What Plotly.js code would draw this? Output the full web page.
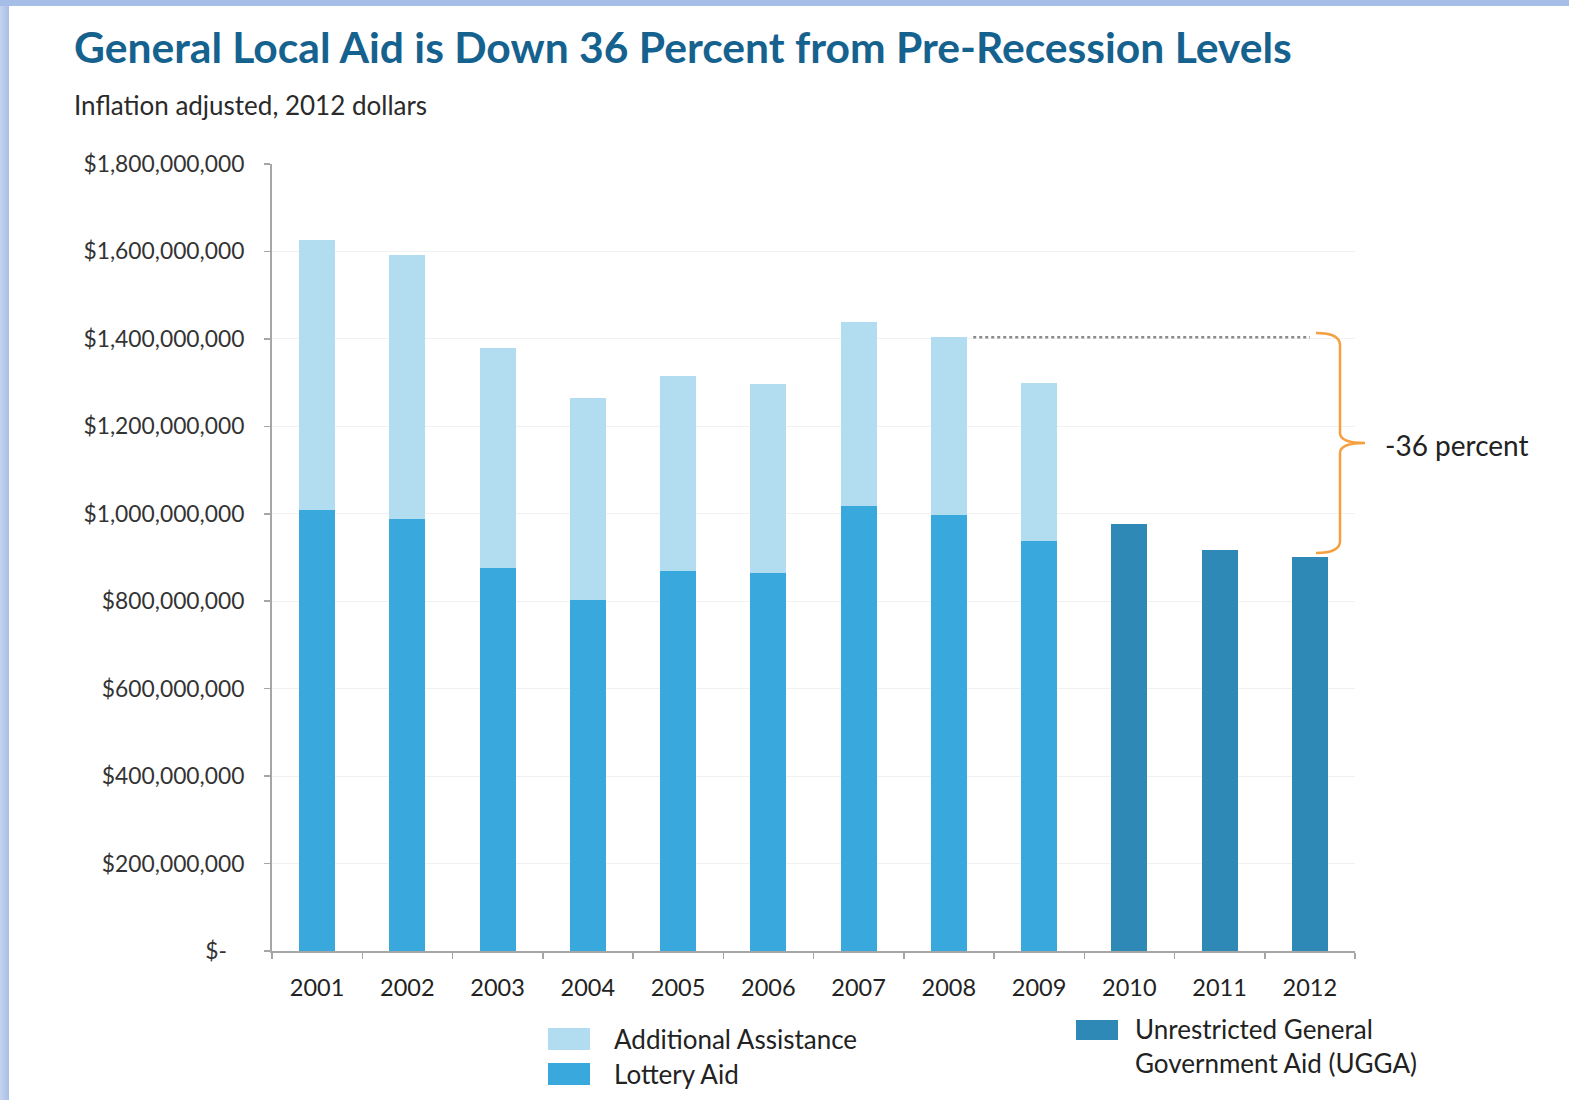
<!DOCTYPE html>
<html>
<head>
<meta charset="utf-8">
<script src="https://cdn.plot.ly/plotly-3.0.1.min.js"></script>
<style>
  html, body { margin:0; padding:0; width:1569px; height:1100px; overflow:hidden;
    background: linear-gradient(to right, #c4d3f0 0px, #a9bfe8 9px); }
  #topbar { position:absolute; left:0; top:0; width:1569px; height:6px; background:#a6bde8; }
  #chart { position:absolute; left:9px; top:6px; width:1560px; height:1094px; background:#fff; }
</style>
</head>
<body>
<div id="topbar"></div>
<div id="chart"></div>
<script>
// ---- data (dollars, inflation adjusted, 2012) ----
const years = ['2001','2002','2003','2004','2005','2006','2007','2008','2009','2010','2011','2012'];
const lotteryAid = [1009e6, 988e6, 876e6, 803e6, 869e6, 865e6, 1018e6, 997e6, 938e6, null, null, null];
const additionalAssistance = [617e6, 604e6, 503e6, 462e6, 446e6, 432e6, 421e6, 407e6, 361e6, null, null, null];
const ugga = [null, null, null, null, null, null, null, null, null, 977e6, 917e6, 901e6];
const yTickVals = [0, 200e6, 400e6, 600e6, 800e6, 1000e6, 1200e6, 1400e6, 1600e6, 1800e6];
const yTickText = ['$-   ', '$200,000,000', '$400,000,000', '$600,000,000', '$800,000,000',
  '$1,000,000,000', '$1,200,000,000', '$1,400,000,000', '$1,600,000,000', '$1,800,000,000'];
const seriesNames = ['Additional Assistance', 'Lottery Aid', 'Unrestricted General<br>Government Aid (UGGA)'];
const colors = { additional: '#b2dcf0', lottery: '#38a8dd', ugga: '#2f89b6' };

// ---- geometry helpers (page pixels -> paper) ----
const W = 1560, H = 1094, ML = 263, MR = 214, MT = 158, MB = 149;
const plotW = W - ML - MR, plotH = H - MT - MB;
const px = xp => (xp - 9 - ML) / plotW;
const py = yp => (H - MB - (yp - 6)) / plotH;

const FONT = 'Lato, "Open Sans", sans-serif';

const traces = [
  { type: 'bar', name: seriesNames[1], x: years, y: lotteryAid, marker: { color: colors.lottery }, width: 0.4, hoverinfo: 'y' },
  { type: 'bar', name: seriesNames[0], x: years, y: additionalAssistance, marker: { color: colors.additional }, width: 0.4, hoverinfo: 'y' },
  { type: 'bar', name: seriesNames[2], x: years, y: ugga, marker: { color: colors.ugga }, width: 0.4, hoverinfo: 'y' }
];

const peak2008 = lotteryAid[7] + additionalAssistance[7];

// brace path (page px)
function P(x, y) { return px(x).toFixed(5) + ',' + py(y).toFixed(5); }
const bx = 1340, tipX = 1316, midX = 1365, yT = 333, yB = 553, yM = 443;
const bracePath = 'M' + P(tipX, yT) + ' Q' + P(bx, yT) + ' ' + P(bx, yT + 12) +
  ' L' + P(bx, yM - 10) + ' Q' + P(bx, yM) + ' ' + P(midX, yM) +
  ' Q' + P(bx, yM) + ' ' + P(bx, yM + 10) +
  ' L' + P(bx, yB - 12) + ' Q' + P(bx, yB) + ' ' + P(tipX, yB);

const shapes = [
  { type: 'line', xref: 'x', yref: 'y', x0: 7.27, x1: 11, y0: peak2008, y1: peak2008,
    line: { color: '#8a8a8a', width: 2.5, dash: 'dot' } },
  { type: 'path', xref: 'paper', yref: 'paper', path: bracePath, line: { color: '#f5a040', width: 2.5 } },
  // legend swatches
  { type: 'rect', xref: 'paper', yref: 'paper', x0: px(548), x1: px(590), y0: py(1050), y1: py(1028),
    fillcolor: colors.additional, line: { width: 0 } },
  { type: 'rect', xref: 'paper', yref: 'paper', x0: px(548), x1: px(590), y0: py(1085), y1: py(1063),
    fillcolor: colors.lottery, line: { width: 0 } },
  { type: 'rect', xref: 'paper', yref: 'paper', x0: px(1076), x1: px(1118), y0: py(1040), y1: py(1020),
    fillcolor: colors.ugga, line: { width: 0 } }
];

const annotations = [
  { xref: 'paper', yref: 'paper', x: px(72), y: py(47), xanchor: 'left', yanchor: 'middle', showarrow: false,
    text: '<b>General Local Aid is Down 36 Percent from Pre-Recession Levels</b>',
    font: { family: FONT, size: 42.6, color: '#16628f' } },
  { xref: 'paper', yref: 'paper', x: px(72), y: py(105), xanchor: 'left', yanchor: 'middle', showarrow: false,
    text: 'Inflation adjusted, 2012 dollars', font: { family: FONT, size: 26, color: '#2a2a2a' } },
  { xref: 'paper', yref: 'paper', x: px(1383), y: py(445), xanchor: 'left', yanchor: 'middle', showarrow: false,
    text: '-36 percent', font: { family: FONT, size: 28, color: '#222' } },
  { xref: 'paper', yref: 'paper', x: px(612), y: py(1039), xanchor: 'left', yanchor: 'middle', showarrow: false,
    text: seriesNames[0], font: { family: FONT, size: 26, color: '#222' } },
  { xref: 'paper', yref: 'paper', x: px(612), y: py(1074), xanchor: 'left', yanchor: 'middle', showarrow: false,
    text: seriesNames[1], font: { family: FONT, size: 26, color: '#222' } },
  { xref: 'paper', yref: 'paper', x: px(1133), y: py(1046), xanchor: 'left', yanchor: 'middle', showarrow: false,
    align: 'left', text: seriesNames[2], font: { family: FONT, size: 26, color: '#222' } }
];

const layout = {
  width: W, height: H,
  margin: { l: ML, r: MR, t: MT, b: MB, pad: 0 },
  paper_bgcolor: '#ffffff', plot_bgcolor: '#ffffff',
  barmode: 'stack', bargap: 0.6,
  showlegend: false,
  font: { family: FONT, color: '#222' },
  xaxis: {
    type: 'category', range: [-0.5, 11.5], fixedrange: true,
    showline: true, linecolor: '#a6a6a6', linewidth: 2,
    ticks: 'outside', tickson: 'boundaries', ticklen: 6, tickcolor: '#a6a6a6', tickwidth: 1.5,
    tickfont: { family: FONT, size: 23.5, color: '#222' }, ticklabelstandoff: 15,
    showgrid: false, zeroline: false
  },
  yaxis: {
    range: [0, 1800e6], fixedrange: true,
    tickmode: 'array', tickvals: yTickVals, ticktext: yTickText,
    showline: true, linecolor: '#a6a6a6', linewidth: 2,
    ticks: 'outside', ticklen: 6, tickcolor: '#a6a6a6', tickwidth: 1.5,
    tickfont: { family: FONT, size: 22.8, color: '#333' }, ticklabelstandoff: 15,
    showgrid: true, gridcolor: '#f1f1f1', gridwidth: 1, zeroline: false
  },
  shapes: shapes,
  annotations: annotations
};

Plotly.newPlot('chart', traces, layout, { displayModeBar: false, staticPlot: true });
</script>
</body>
</html>
